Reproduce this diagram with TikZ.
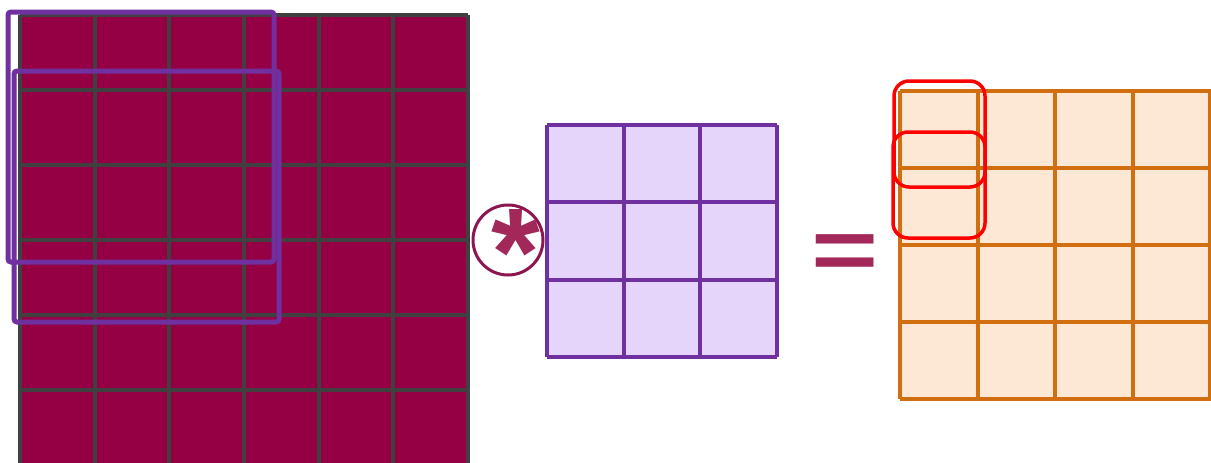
\documentclass[tikz,border=0pt]{standalone}
\usepackage{fontspec}
\newfontfamily\opfont{Liberation Sans}
\definecolor{inputfill}{HTML}{950044}
\definecolor{inputline}{HTML}{404040}
\definecolor{kernelline}{HTML}{7030A0}
\definecolor{kernelfill}{HTML}{E6D5FB}
\definecolor{outputfill}{HTML}{FDE8D6}
\definecolor{outputline}{HTML}{D06E10}
\definecolor{opcolor}{HTML}{A3285A}
\definecolor{ringcolor}{HTML}{8E1650}

\begin{document}
\begin{tikzpicture}[
    x=1pt, y=-1pt,
    inputgrid/.style={draw=inputline, line width=4pt},
    kernelgrid/.style={draw=kernelline, line width=4pt},
    outputgrid/.style={draw=outputline, line width=4pt},
    window/.style={draw=kernelline, line width=5pt, rounded corners=3pt},
    target/.style={draw=red, line width=3.5pt, rounded corners=15pt},
    opsign/.style={anchor=base, text=opcolor, inner sep=0pt}
]
    \path[use as bounding box, clip] (0,0) rectangle (1211,463);

    % input 6x6
    \fill[inputfill] (20,15) rectangle (468,465);
    \foreach \i in {0,...,6}
        \draw[inputgrid] ({20+\i*74.67},15) -- ({20+\i*74.67},465);
    \foreach \j in {0,...,6}
        \draw[inputgrid] (20,{15+\j*75}) -- (468,{15+\j*75});

    % sliding windows
    \draw[window] (8,12) rectangle (274,262);
    \draw[window] (14,71) rectangle (279,322);

    % convolution sign
    \node[circle, draw=ringcolor, line width=3pt, minimum size=70pt, inner sep=0pt] (convring) at (508,240) {};
    \node[opsign, font=\opfont\bfseries\fontsize{125}{125}\selectfont] (convstar) at (516,295) {*};

    % kernel 3x3
    \fill[kernelfill] (547,125) rectangle (777,357);
    \foreach \i in {0,...,3}
        \draw[kernelgrid] ({547+\i*76.67},125) -- ({547+\i*76.67},357);
    \foreach \j in {0,...,3}
        \draw[kernelgrid] (547,{125+\j*77.33}) -- (777,{125+\j*77.33});

    % equals sign
    \node[opsign, yscale=0.75, font=\opfont\bfseries\fontsize{115}{115}\selectfont] (equals) at (845,279) {=};

    % output 4x4
    \fill[outputfill] (900,91) rectangle (1211,399);
    \foreach \i in {0,...,4}
        \draw[outputgrid] ({900+\i*77.5},91) -- ({900+\i*77.5},399);
    \foreach \j in {0,...,4}
        \draw[outputgrid] (900,{91+\j*77}) -- (1211,{91+\j*77});

    % output positions
    \draw[target] (894,81) rectangle (985,187);
    \draw[target] (893,132) rectangle (985,238);
\end{tikzpicture}
\end{document}
